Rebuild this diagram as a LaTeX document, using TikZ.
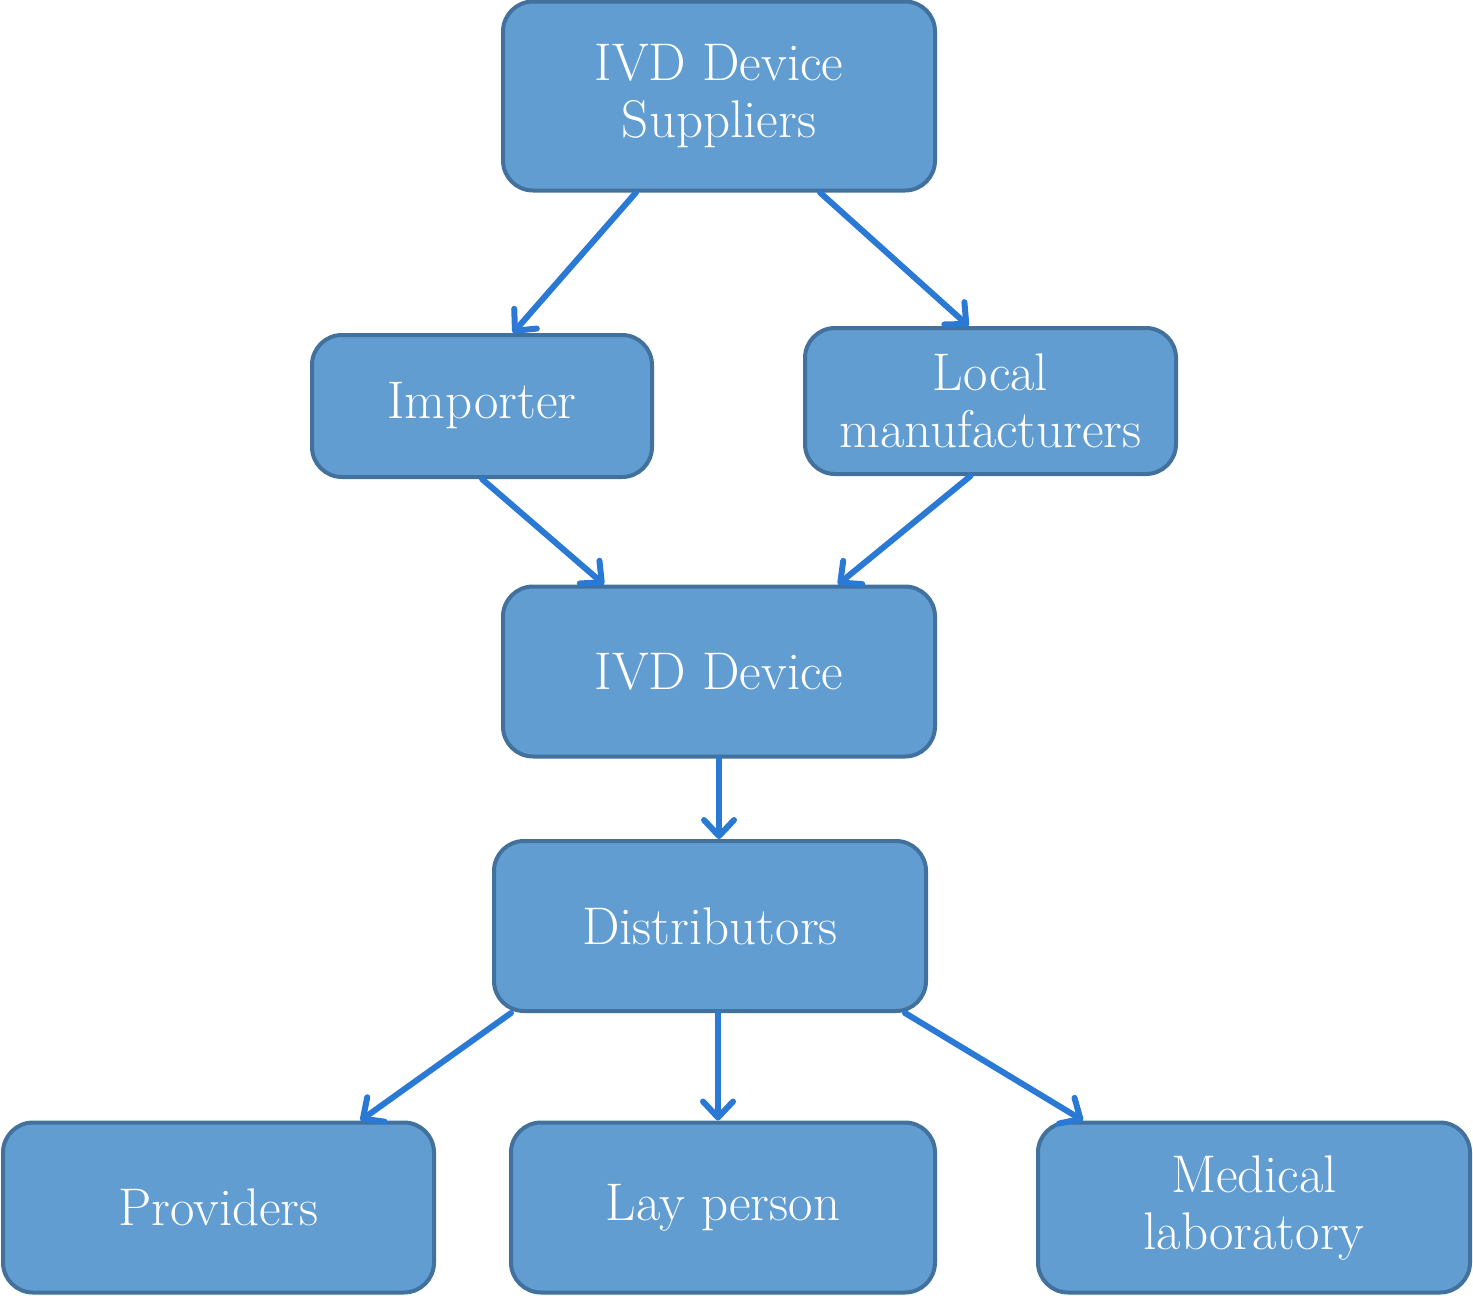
\documentclass[tikz,border=0pt]{standalone}
\usetikzlibrary{arrows.meta}
\definecolor{boxfill}{RGB}{98,157,209}
\definecolor{boxline}{RGB}{65,113,156}
\definecolor{flowblue}{RGB}{42,122,213}
\begin{document}
\begin{tikzpicture}[x=0.5pt,y=-0.5pt,
    entity/.style={draw=boxline, line width=2pt, fill=boxfill, rounded corners=15pt, text=white, align=center, minimum height=85pt, font=\fontsize{26.5}{28.5}\selectfont},
    flow/.style={draw=flowblue, line width=3pt, line cap=round, -{Straight Barb[length=8pt, width=15pt, line width=3pt, round]}}]
    \useasboundingbox (0,0) rectangle (1473,1296);

    \node[entity, minimum width=216pt, minimum height=94.5pt] (sup) at (719,96) {IVD Device\\Suppliers};
    \node[entity, minimum width=170pt, minimum height=71pt] (imp) at (482,406) {Importer};
    \node[entity, minimum width=185.5pt, minimum height=73pt] (loc) at (990.5,401) {Local\\manufacturers};
    \node[entity, minimum width=216pt] (dev) at (719,671.5) {IVD Device};
    \node[entity, minimum width=216pt] (dis) at (710,926) {Distributors};
    \node[entity, minimum width=215.5pt] (prov) at (218.5,1207.5) {Providers};
    \node[entity, minimum width=212pt] (lay) at (723,1207.5) {Lay person};
    \node[entity, minimum width=216pt] (med) at (1254,1207.5) {Medical\\laboratory};

    \draw[flow] ([xshift=-41.5pt]sup.south) -- ([xshift=15.5pt]imp.north);
    \draw[flow] ([xshift=50.5pt]sup.south) -- ([xshift=-11pt]loc.north);
    \draw[flow] (imp.south) -- ([xshift=-57.5pt]dev.north);
    \draw[flow] ([xshift=-10pt]loc.south) -- ([xshift=59.5pt]dev.north);
    \draw[flow] (dev.south) -- (dev.south |- dis.north);
    \draw[flow] ([xshift=-99.5pt]dis.south) -- ([xshift=71pt]prov.north);
    \draw[flow] ([xshift=4pt]dis.south) -- ([xshift=4pt]dis.south |- lay.north);
    \draw[flow] ([xshift=97.5pt]dis.south) -- ([xshift=-85.5pt]med.north);
\end{tikzpicture}
\end{document}
